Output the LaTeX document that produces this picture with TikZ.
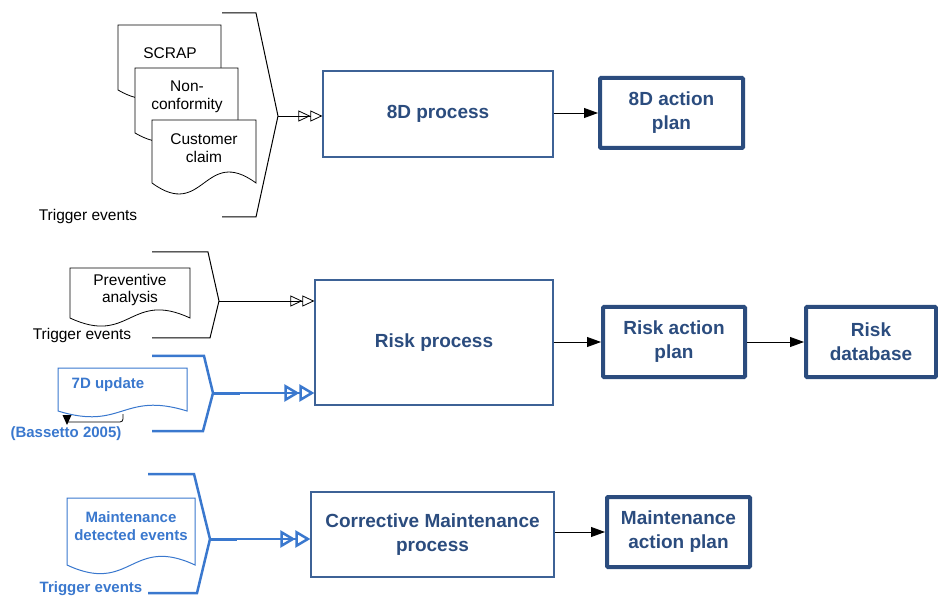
\documentclass[tikz,border=0pt]{standalone}
\usepackage{fontspec}
\setmainfont{Liberation Sans}
\usetikzlibrary{arrows.meta,calc}
\definecolor{dkblue}{HTML}{2B4C7E}
\definecolor{bxblue}{HTML}{3D6296}
\definecolor{ltblue}{HTML}{3A78CE}
\newcommand\docshp[6][]{%
  \pgfmathsetmacro\dmid{(#2+#4)/2}%
  \draw[fill=white,#1] (#2,#5) -- (#2,#3) -- (#4,#3) -- (#4,#5)
     .. controls (\dmid,#5-#6) and (\dmid,#5+#6) .. (#2,#5) -- cycle;}
\begin{document}
\begin{tikzpicture}[x=1pt,y=-1pt,
  bigtxt/.style={font=\fontsize{19}{24}\selectfont\bfseries,text=dkblue,align=center},
  smtxt/.style={font=\fontsize{15.5}{17.5}\selectfont,align=center},
  bltxt/.style={font=\fontsize{15}{18}\selectfont\bfseries,text=ltblue,align=center},
  procbox/.style={bigtxt,draw=bxblue,line width=1.2pt,inner sep=0pt},
  actbox/.style={bigtxt,draw=dkblue,line width=4pt,inner sep=0pt,rounded corners=1pt},
  brk/.style={line width=1pt},
  bbrk/.style={line width=2.5pt,draw=ltblue},
  feed/.style={line width=0.8pt,-{Triangle[open,length=12pt,width=11pt,line width=0.8pt]Triangle[open,length=12pt,width=11pt,line width=0.8pt]}},
  bfeed/.style={line width=2.5pt,draw=ltblue,-{Triangle[open,length=15pt,width=17pt,line width=2.5pt]Triangle[open,length=15pt,width=17pt,line width=2.5pt]}},
  outarr/.style={line width=0.8pt,-{Triangle[length=14pt,width=10pt]}}
]
\useasboundingbox (0,0) rectangle (938,596);

% ---------- group 1 ----------
\docshp[line width=0.8pt]{118}{25}{221}{90}{30}
\docshp[line width=0.8pt]{135}{68}{238}{133}{30}
\docshp[line width=0.8pt]{152}{120}{256}{183}{38}
\node[smtxt] (scrap) at (170,53) {SCRAP};
\node[smtxt] (ncf) at (187,97) {Non-\\conformity};
\node[smtxt] (cc) at (204,148) {Customer\\claim};
\node[smtxt] (trg1) at (88,216) {Trigger events};
\draw[brk] (222,13) -- (256,13) -- (278,116) coordinate (t1) -- (256,217) -- (222,217);

\node[procbox,minimum width=230pt,minimum height=86pt] (p8d) at (438,114) {8D process};
\node[actbox,minimum width=143pt,minimum height=70pt] (a8d) at (671.5,113) {8D action\\plan};
\draw[feed] (t1) -- (t1 -| p8d.west);
\draw[outarr] (p8d.east |- a8d.west) -- (a8d.west);

% ---------- group 2 ----------
\docshp[line width=0.8pt]{70}{268}{190}{318}{28}
\node[smtxt] (prev) at (130,290) {Preventive\\analysis};
\node[smtxt] (trg2) at (82,335) {Trigger events};
\draw[brk] (152,252) -- (208,252) -- (219,301) coordinate (t2) -- (210,338) -- (152,338);

\docshp[draw=ltblue,line width=1pt]{58}{368}{187}{411}{20}
\node[bltxt] (u7d) at (108,385) {7D update};
\node[bltxt] (bas) at (66,434) {(Bassetto 2005)};
\draw[line width=0.8pt,rounded corners=3pt] (123,414) |- (67,422) coordinate (bt);
\fill (bt) ++(-4.5,-7) -- ++(9,0) -- ++(-4.5,10) -- cycle;
\draw[bbrk] (152,356) -- (204,356) -- (213,393) coordinate (t3) -- (203,431) -- (152,431);

\node[procbox,minimum width=238pt,minimum height=125pt] (prisk) at (434,342.5) {Risk process};
\node[actbox,minimum width=142pt,minimum height=70pt] (arisk) at (674,342) {Risk action\\plan};
\node[actbox,minimum width=130pt,minimum height=70pt] (drisk) at (871,342) {Risk\\database};
\draw[feed] (t2) -- (t2 -| prisk.west);
\draw[bfeed] (t3) -- (t3 -| prisk.west);
\draw[line width=3pt,draw=ltblue] (t3) -- ++(27,0);
\draw[outarr] (prisk.east |- arisk.west) -- (arisk.west);
\draw[outarr] (arisk.east) -- (drisk.west);

% ---------- group 3 ----------
\docshp[draw=ltblue,line width=1pt]{67}{498}{195}{565}{30}
\node[bltxt] (mde) at (131,526) {Maintenance\\detected events};
\node[bltxt] (trg3) at (91,589) {Trigger events};
\draw[bbrk] (148,474) -- (194,474) -- (210,539) coordinate (t4) -- (197,593) -- (148,593);

\node[procbox,minimum width=243pt,minimum height=85pt] (pcm) at (432.5,534.5) {Corrective Maintenance\\process};
\node[actbox,minimum width=143pt,minimum height=70pt] (acm) at (678.5,532) {Maintenance\\action plan};
\draw[bfeed] (t4) -- (t4 -| pcm.west);
\draw[line width=3pt,draw=ltblue] (t4) -- ++(27,0);
\draw[outarr] (pcm.east |- acm.west) -- (acm.west);
\end{tikzpicture}
\end{document}
